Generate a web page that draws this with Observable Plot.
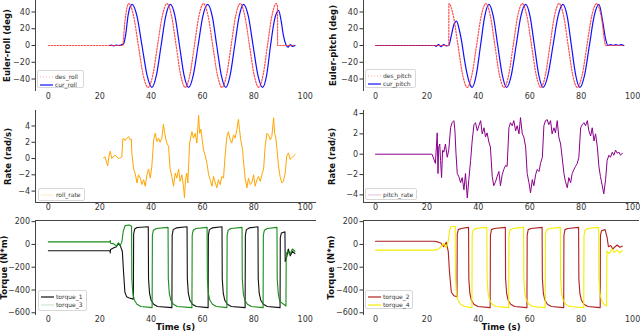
<!DOCTYPE html>
<html><head><meta charset="utf-8">
<script src="https://cdn.jsdelivr.net/npm/d3@7"></script>
<script src="https://cdn.jsdelivr.net/npm/@observablehq/plot@0.6"></script>
<style>
body{margin:0;background:#fff}
#fig{position:relative;width:640px;height:333px;font-family:"DejaVu Sans",sans-serif;overflow:hidden}
#fig svg{position:absolute;background:transparent}
.leg{position:absolute;background:#fff;border:1px solid #d8d8d8;border-radius:2px;font-size:6px;color:#333;box-sizing:border-box}
.row{position:absolute;left:0;height:8px;line-height:8px;white-space:nowrap}
.row svg{position:absolute !important;left:2px;top:2px}
.row span{position:absolute;left:17px;top:0}
</style>
</head><body><div id="fig"></div>
<script>
// ---------- data ----------
const xTicks = [0, 20, 40, 60, 80, 100];
const eulerTicks = [40, 20, 0, -20, -40];
const rateTicks = [4, 2, 0, -2, -4];
const torqueTicks = [200, 0, -200, -400, -600];

const desRoll = [[0,0],[29.0,0],[29.6,22],[30.3,40],[31.3,50],[33.2,35],[35.05,0],[36.9,-35],[38.8,-50],[40.7,-35],[42.5,0],[44.35,35],[46.2,50],[48.0,35],[49.75,0],[51.5,-35],[53.3,-50],[55.1,-35],[56.85,0],[58.6,35],[60.4,50],[62.2,35],[64.0,0],[65.8,-35],[67.6,-50],[69.4,-35],[71.15,0],[72.9,35],[74.7,50],[76.5,35],[78.3,0],[80.1,-35],[81.9,-50],[83.6,-35],[85.3,0],[87.0,35],[88.7,50],[89.2,47],[89.25,0],[95.5,0]];
const curRoll = [[23.8,0],[24.5,0.5],[25.5,-0.5],[26.5,0.5],[27.5,0],[28.5,1],[29.3,2],[30.2,15],[31.0,35],[31.8,46],[32.6,49],[34.5,35],[36.45,0],[38.4,-35],[40.3,-50],[42.1,-35],[43.9,0],[45.7,35],[47.5,49],[49.3,35],[51.05,0],[52.8,-35],[54.6,-50],[56.45,-35],[58.3,0],[60.15,35],[62.0,49],[63.8,35],[65.55,0],[67.3,-35],[69.1,-50],[70.8,-35],[72.55,0],[74.3,35],[76.0,49],[77.85,35],[79.7,0],[81.55,-35],[83.4,-50],[85.0,-35],[86.5,0],[88.0,30],[89.6,42],[90.6,30],[91.5,12],[92.5,1],[93.3,-2],[94.2,1],[95.0,-1],[96.0,0]];

const desPitch = [[0,0],[28.5,0],[28.55,50],[30.3,35],[32.1,0],[33.9,-35],[35.7,-50],[37.5,-35],[39.3,0],[41.1,35],[42.9,50],[44.7,35],[46.45,0],[48.2,-35],[50.0,-50],[51.8,-35],[53.55,0],[55.3,35],[57.1,50],[58.9,35],[60.7,0],[62.5,-35],[64.3,-50],[66.1,-35],[67.85,0],[69.6,35],[71.4,50],[73.2,35],[74.95,0],[76.7,-35],[78.5,-50],[80.4,-35],[82.25,0],[84.1,35],[86.0,50],[87.8,35],[89.6,0],[96.0,0]];
const curPitch = [[0,0],[23,0],[23.5,-1],[24.5,1],[25.5,-1.5],[26.5,1],[27.5,-0.5],[28.5,0],[29.5,12],[30.5,25],[31.5,29],[32.5,20],[33.5,5],[34.5,-15],[35.5,-32],[36.6,-45],[37.6,-50],[39.2,-35],[40.85,0],[42.5,35],[44.1,49],[45.8,35],[47.55,0],[49.3,-35],[51.0,-50],[52.85,-35],[54.7,0],[56.55,35],[58.4,49],[60.1,35],[61.8,0],[63.5,-35],[65.2,-50],[67.1,-35],[69.05,0],[71.0,35],[72.9,49],[74.55,35],[76.2,0],[77.85,-35],[79.5,-50],[81.35,-35],[83.2,0],[85.05,35],[86.9,49],[88.3,30],[89.5,8],[90.4,0],[91.5,1],[92.5,0],[93.5,1],[94.5,0],[95.5,1],[96.6,0]];

const rollRate = [[21.5,0.1],[22.1,0.2],[23.1,-0.9],[23.6,0.3],[24.1,0.9],[24.7,0.0],[25.4,0.3],[26.0,0.4],[26.7,0.2],[27.3,0.0],[28.0,0.1],[28.6,0.2],[29.0,2.4],[29.3,2.5],[29.9,2.2],[30.6,2.5],[31.2,2.7],[31.9,2.3],[32.3,2.4],[32.5,0.7],[33.2,-1.3],[33.8,-1.8],[34.5,-3.0],[35.1,-2.0],[35.8,-2.4],[36.4,-3.2],[37.1,-2.6],[37.7,-3.4],[38.4,-2.0],[39.0,-1.3],[39.7,-2.4],[40.3,-0.9],[41.0,2.3],[41.6,3.1],[42.3,2.1],[42.9,2.5],[43.5,2.0],[44.2,2.5],[44.8,4.2],[45.2,3.3],[45.8,2.3],[46.1,1.9],[46.8,1.5],[47.4,-1.3],[48.1,-2.2],[48.7,-3.4],[49.4,-1.8],[50.0,-2.4],[50.7,-1.3],[51.3,-2.8],[52.0,-2.0],[52.6,-3.4],[53.0,-4.8],[53.4,-2.6],[53.9,-1.8],[54.3,-3.0],[55.0,1.9],[55.9,3.3],[56.5,2.5],[57.2,3.1],[57.8,1.9],[58.5,5.3],[58.9,3.1],[59.4,3.6],[59.9,2.3],[60.4,1.1],[61.1,0.3],[61.7,-0.5],[62.4,-2.0],[63.0,-2.6],[63.7,-3.4],[64.3,-2.2],[65.0,-3.0],[65.6,-3.6],[66.2,-2.6],[66.9,-3.2],[67.5,-2.2],[68.2,-2.4],[68.8,0.3],[69.5,2.7],[70.1,3.3],[70.8,2.3],[71.4,1.9],[72.1,2.9],[72.7,2.5],[73.4,3.6],[74.0,4.8],[74.4,3.6],[74.9,2.3],[75.6,1.1],[75.9,-0.1],[76.6,-2.4],[77.3,-3.6],[77.9,-2.4],[78.6,-3.2],[79.2,-3.0],[79.9,-2.0],[80.5,-3.4],[81.2,-2.6],[81.8,-2.2],[82.5,-2.8],[83.1,-2.0],[83.8,-1.3],[84.4,1.5],[85.1,3.1],[85.7,2.9],[86.4,2.3],[87.0,2.7],[87.7,5.0],[88.1,3.1],[88.6,2.5],[88.9,1.5],[89.6,-0.9],[90.2,-2.2],[90.9,-3.0],[91.5,-2.8],[92.2,-1.8],[92.8,0.3],[93.5,0.7],[94.1,-0.1],[94.8,0.1],[95.4,0.3],[96.1,0.5]];

const pitchRate = [[0,0],[22.0,0],[23.3,-0.9],[24.0,2.1],[24.3,-1.9],[24.6,0.7],[25.0,1.0],[25.3,-0.6],[25.7,-2.3],[26.1,0.4],[26.6,0.2],[27.2,1.0],[27.9,-0.3],[28.5,0.4],[29.2,2.6],[29.8,3.1],[30.5,3.3],[30.9,2.3],[31.3,0.1],[31.8,-1.9],[32.4,-2.2],[33.1,-2.8],[33.7,-2.3],[34.4,-3.5],[35.0,-1.9],[35.7,-4.3],[36.3,-2.5],[37.0,-0.6],[37.6,1.3],[38.3,2.9],[38.9,3.1],[39.6,2.3],[40.2,2.8],[40.9,3.3],[41.5,2.0],[42.2,2.6],[42.8,1.7],[43.4,2.1],[44.1,1.2],[44.7,0.7],[45.4,-2.2],[46.0,-3.1],[46.7,-2.7],[47.3,-2.2],[48.0,-1.7],[48.6,-3.1],[49.3,-2.0],[49.9,-1.5],[50.6,-1.1],[51.2,-1.2],[51.9,2.6],[52.5,3.1],[53.2,2.8],[53.8,3.3],[54.5,2.3],[55.1,2.8],[55.8,2.0],[56.4,3.6],[57.1,2.0],[57.7,1.7],[58.4,0.7],[59.0,-1.9],[59.7,-2.8],[60.3,-3.8],[61.0,-2.5],[61.6,-3.1],[62.3,-2.0],[62.9,-1.5],[63.6,-1.7],[64.2,-0.9],[64.9,-0.3],[65.5,2.8],[66.1,3.3],[66.8,3.4],[67.4,2.9],[68.1,3.3],[68.7,2.0],[69.4,2.6],[70.0,2.1],[70.7,3.3],[71.3,1.7],[72.0,1.0],[72.6,-0.3],[73.3,-1.9],[73.9,-2.7],[74.6,-3.3],[75.2,-2.3],[75.9,-2.8],[76.5,-1.9],[77.2,-1.5],[77.8,-1.2],[78.5,-0.9],[79.1,-0.3],[79.8,2.6],[80.4,2.9],[81.1,3.1],[81.7,2.8],[82.4,3.3],[83.0,2.3],[83.7,1.8],[84.3,2.6],[85.0,1.3],[85.6,2.0],[86.3,0.7],[86.9,-1.2],[87.5,-2.2],[88.2,-3.1],[88.8,-3.9],[89.5,-2.5],[90.1,-0.6],[90.8,-0.1],[91.4,-0.3],[92.1,0.2],[92.7,-0.1],[93.4,0.4],[94.0,0.1],[94.7,0.2],[95.3,-0.1],[96.0,0.1]];

const torque1 = [[0,-55],[24.0,-55],[24.1,-75],[24.2,-45],[25.5,-30],[26.5,-20],[27.3,10],[28.0,-10],[28.8,-60],[29.3,-250],[29.8,-420],[30.5,-460],[31.5,-470],[33.1,-480],[33.2,90],[33.6,135],[34.5,148],[38.9,155],[39.0,-300],[39.4,-430],[40.0,-490],[41.0,-525],[42.5,-545],[48.1,-555],[48.2,80],[48.6,130],[49.8,145],[54.0,155],[54.1,-300],[54.5,-430],[55.1,-490],[56.1,-525],[57.6,-545],[62.2,-555],[62.3,80],[62.7,130],[63.8,145],[67.6,155],[67.7,-300],[68.1,-430],[68.7,-490],[69.7,-525],[71.2,-545],[76.6,-555],[76.7,80],[77.1,130],[78.2,145],[81.6,155],[81.7,-300],[82.1,-430],[82.7,-490],[83.7,-525],[85.2,-545],[90.2,-555],[90.3,60],[90.7,100],[92.1,110],[92.2,-150],[92.8,-110],[93.4,-40],[94.2,-100],[95.0,-60],[96.0,-80]];
const torque3 = [[0,22],[24.0,22],[24.1,35],[24.2,10],[25.5,5],[26.5,-15],[27.3,15],[28.0,-10],[28.6,20],[29.2,120],[29.9,165],[31.5,170],[32.4,160],[32.5,-300],[32.9,-430],[33.5,-490],[34.5,-525],[36.0,-545],[40.4,-555],[40.5,80],[40.9,125],[42.0,140],[46.6,150],[46.7,-300],[47.1,-430],[47.7,-490],[48.7,-525],[50.2,-545],[55.9,-555],[56.0,80],[56.4,125],[57.5,140],[61.8,150],[61.9,-300],[62.3,-430],[62.9,-490],[63.9,-525],[65.4,-545],[69.5,-555],[69.6,80],[70.0,125],[71.1,140],[75.4,150],[75.5,-300],[75.9,-430],[76.5,-490],[77.5,-525],[79.0,-545],[83.6,-555],[83.7,80],[84.1,125],[85.2,140],[89.0,150],[89.1,-300],[89.5,-430],[90.1,-500],[92.5,-540],[92.6,-80],[93.2,-60],[94.0,-90],[95.0,-40],[96.0,-60]];
const torque2 = [[0,28],[23.0,28],[24.5,20],[25.5,10],[26.5,-20],[27.5,20],[28.3,-60],[28.8,-250],[29.5,-420],[30.5,-450],[31.7,-460],[31.8,90],[32.2,130],[33.3,140],[36.2,150],[36.3,-300],[36.7,-430],[37.3,-490],[38.3,-525],[39.8,-545],[44.6,-555],[44.7,80],[45.1,130],[46.2,140],[50.5,150],[50.6,-300],[51.0,-430],[51.6,-490],[52.6,-525],[54.1,-545],[58.9,-555],[59.0,80],[59.4,130],[60.5,140],[64.8,150],[64.9,-300],[65.3,-430],[65.9,-490],[66.9,-525],[68.4,-545],[73.2,-555],[73.3,80],[73.7,130],[74.8,140],[79.0,150],[79.1,-300],[79.5,-430],[80.1,-490],[81.1,-525],[82.6,-545],[87.4,-555],[87.5,80],[87.9,120],[89.3,130],[90.1,60],[90.6,-20],[91.5,-10],[92.3,-40],[93.2,-20],[94.0,-5],[95.0,-25],[96.0,-15]];
const torque4 = [[0,-50],[23.0,-50],[24.5,-40],[25.5,-20],[26.5,10],[27.5,-30],[28.3,30],[28.8,120],[29.3,155],[31.0,160],[31.1,-300],[31.5,-430],[32.1,-490],[33.1,-525],[34.6,-545],[37.5,-555],[37.6,80],[38.0,125],[39.1,140],[43.3,150],[43.4,-300],[43.8,-430],[44.4,-490],[45.4,-525],[46.9,-545],[51.8,-555],[51.9,80],[52.3,125],[53.4,140],[57.6,150],[57.7,-300],[58.1,-430],[58.7,-490],[59.7,-525],[61.2,-545],[66.0,-555],[66.1,80],[66.5,125],[67.6,140],[71.9,150],[72.0,-300],[72.4,-430],[73.0,-490],[74.0,-525],[75.5,-545],[81.0,-555],[81.1,80],[81.5,125],[82.6,140],[86.8,150],[86.9,-300],[87.3,-430],[87.9,-490],[88.9,-525],[89.9,-540],[90.0,-60],[91.0,-80],[92.0,-40],[93.0,-70],[94.0,-50],[95.0,-75],[96.0,-55]];

// ---------- drawing ----------
const fig = document.getElementById("fig");
const toObj = a => a.map(([t, v]) => ({t, v}));

function panel(o) {
  const marks = [
    Plot.axisY(o.yTicks, {tickSize: 3.5, tickPadding: 2, fontSize: 8, label: null, color: "#333"}),
    Plot.axisX(xTicks, {tickSize: 0, tickPadding: o.xPad, fontSize: 8, label: null, color: "#333"}),
    ...o.series.map(s => Plot.line(toObj(s.data), {x: "t", y: "v", stroke: s.color, strokeWidth: s.w || 1.1, strokeOpacity: s.op ?? 1, strokeDasharray: s.dash, curve: s.curve || "linear"})),
    Plot.frame({anchor: "left", stroke: "#444"}),
    ...(o.spines || []).map(a => Plot.frame({anchor: a, stroke: "#444"})),
    Plot.text([o.yLabel], {frameAnchor: "left", textAnchor: "middle", rotate: -90, dx: o.ylDx, text: d => d, fontWeight: "bold", fontSize: 8.5, fill: "#111"})
  ];
  if (o.xLabel) marks.push(Plot.text([o.xLabel], {frameAnchor: "bottom", dy: 15, text: d => d, fontWeight: "bold", fontSize: 8.5, fill: "#111"}));
  const svg = Plot.plot({
    width: o.w, height: o.h,
    marginLeft: o.mL, marginRight: o.mR, marginTop: o.mT, marginBottom: o.mB,
    style: {fontFamily: "DejaVu Sans, sans-serif", background: "transparent", overflow: "visible"},
    x: {domain: o.xDomain},
    y: {domain: o.yDomain},
    marks
  });
  svg.style.left = o.left + "px";
  svg.style.top = o.top + "px";
  fig.appendChild(svg);
}

const L = {left: 0, w: 320, mL: 35, mR: 5, xDomain: [-5, 104]};
const R = {left: 320, w: 320, mL: 43, mR: 2, xDomain: [-4.67, 102.3]};
const T = {top: 0, h: 105, mT: 0, mB: 15, xPad: 3};
const M = {top: 105, h: 110, mT: 5, mB: 13, xPad: 2, spines: ["bottom"]};
const B = {top: 215, h: 118, mT: 5, mB: 19, xPad: 2, spines: ["top"], xLabel: "Time (s)"};

panel({...L, ...T, yDomain: [-53.7, 53.7], yTicks: eulerTicks, yLabel: "Euler-roll (deg)", ylDx: -28,
  series: [{data: curRoll, color: "#1010ff", w: 1.2, curve: "monotone-x"}, {data: desRoll, color: "#ff3030", op: 0.85, w: 1.2, dash: "1.5,1.5", curve: "monotone-x"}]});
panel({...R, ...T, yDomain: [-53.7, 53.7], yTicks: eulerTicks, yLabel: "Euler-pitch (deg)", ylDx: -30,
  series: [{data: curPitch, color: "#1010ff", w: 1.2, curve: "monotone-x"}, {data: desPitch, color: "#ff3030", op: 0.85, w: 1.2, dash: "1.5,1.5", curve: "monotone-x"}]});
panel({...L, ...M, yDomain: [-5.4, 5.9], yTicks: rateTicks, yLabel: "Rate (rad/s)", ylDx: -27,
  series: [{data: rollRate, color: "#ffa500", w: 1}]});
panel({...R, ...M, yDomain: [-4.75, 4.3], yTicks: rateTicks, yLabel: "Rate (rad/s)", ylDx: -31,
  series: [{data: pitchRate, color: "#8b008b", w: 1}]});
panel({...L, ...B, yDomain: [-615, 210], yTicks: torqueTicks, yLabel: "Torque (N*m)", ylDx: -31,
  series: [{data: torque1, color: "#111", w: 1.1}, {data: torque3, color: "#1a8c1a", w: 1.1}]});
panel({...R, ...B, yDomain: [-615, 210], yTicks: torqueTicks, yLabel: "Torque (N*m)", ylDx: -32,
  series: [{data: torque2, color: "#b02020", w: 1.1}, {data: torque4, color: "#f2ee00", w: 1.1}]});

// ---------- legends ----------
function legend(x, y, w, h, entries) {
  const d = document.createElement("div");
  d.className = "leg";
  Object.assign(d.style, {left: x + "px", top: y + "px", width: w + "px", height: h + "px"});
  entries.forEach((e, i) => {
    const r = document.createElement("div");
    r.className = "row";
    r.style.top = (h > 14 ? 1.5 + i * 8 : 2) + "px";
    r.style.width = "100%";
    r.innerHTML = `<svg width="14" height="4" style="position:absolute;left:2px;top:2px"><line x1="0" y1="2" x2="13" y2="2" stroke="${e.c}" stroke-width="1.2" ${e.dash ? `stroke-dasharray="${e.dash}"` : ""} opacity="${e.o ?? 1}"/></svg><span>${e.n}</span>`;
    d.appendChild(r);
  });
  fig.appendChild(d);
}
legend(37, 70, 47, 18, [{n: "des_roll", c: "#ff2020", dash: "1,2", o: 0.4}, {n: "cur_roll", c: "#1010ff"}]);
legend(365, 69, 51, 19, [{n: "des_pitch", c: "#ff2020", dash: "1,2", o: 0.4}, {n: "cur_pitch", c: "#1010ff"}]);
legend(38, 188, 47, 13, [{n: "roll_rate", c: "#ffa500", o: 0.2}]);
legend(365, 188, 52, 12, [{n: "pitch_rate", c: "#8b008b", o: 0.2}]);
legend(38, 290, 49, 21, [{n: "torque_1", c: "#111"}, {n: "torque_3", c: "#1a8c1a", o: 0.2}]);
legend(365, 290, 48, 19, [{n: "torque_2", c: "#b02020"}, {n: "torque_4", c: "#f2ee00"}]);
</script></body></html>
